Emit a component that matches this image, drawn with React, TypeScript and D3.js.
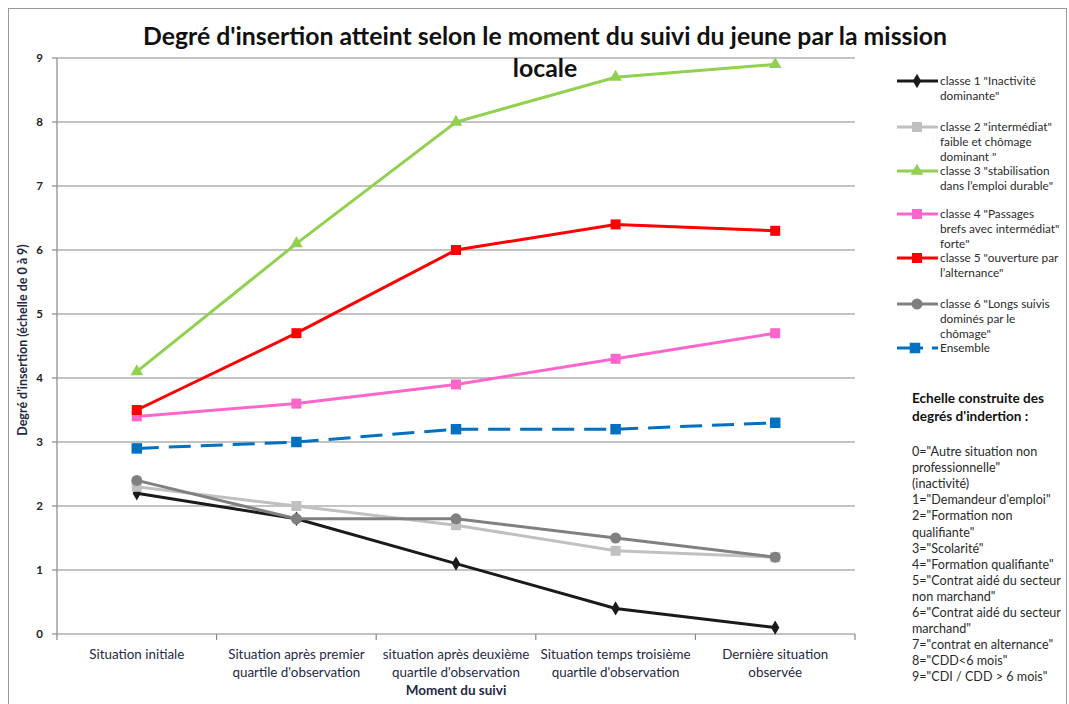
import React from 'react'
import { scaleBand, scaleLinear, line, symbol, symbolSquare, symbolDiamond, symbolTriangle, symbolCircle, range } from 'd3'

const categories = [
  ['Situation initiale'],
  ['Situation après premier', "quartile d'observation"],
  ['situation après deuxième', "quartile d'observation"],
  ['Situation temps troisième', "quartile d'observation"],
  ['Dernière situation', 'observée'],
]

const classe1 = [2.2, 1.8, 1.1, 0.4, 0.1]
const classe2 = [2.3, 2.0, 1.7, 1.3, 1.2]
const classe3 = [4.1, 6.1, 8.0, 8.7, 8.9]
const classe4 = [3.4, 3.6, 3.9, 4.3, 4.7]
const classe5 = [3.5, 4.7, 6.0, 6.4, 6.3]
const classe6 = [2.4, 1.8, 1.8, 1.5, 1.2]
const ensemble = [2.9, 3.0, 3.2, 3.2, 3.3]

const legendLabels = [
  ['classe 1 "Inactivité', 'dominante"'],
  ['classe 2 "intermédiat"', 'faible et chômage', 'dominant "'],
  ['classe 3 "stabilisation', 'dans l’emploi durable"'],
  ['classe 4 "Passages', 'brefs avec intermédiat"', 'forte"'],
  ['classe 5 "ouverture par', 'l’alternance"'],
  ['classe 6 "Longs suivis', 'dominés par le', 'chômage"'],
  ['Ensemble'],
]

const scaleTitle = ['Echelle construite des', "degrés d'indertion :"]
const scaleLines = [
  '0="Autre situation non',
  'professionnelle"',
  '(inactivité)',
  '1="Demandeur d\'emploi"',
  '2="Formation non',
  'qualifiante"',
  '3="Scolarité"',
  '4="Formation qualifiante"',
  '5="Contrat aidé du secteur',
  'non marchand"',
  '6="Contrat aidé du secteur',
  'marchand"',
  '7="contrat en alternance"',
  '8="CDD<6 mois"',
  '9="CDI / CDD > 6 mois"',
]

const yTicks = range(0, 10)

const series = [
  { values: classe1, color: '#1a1a1a', shape: symbolDiamond, size: 60, dash: null },
  { values: classe2, color: '#c0c0c0', shape: symbolSquare, size: 100, dash: null },
  { values: classe3, color: '#92d050', shape: symbolTriangle, size: 70, dash: null },
  { values: classe4, color: '#ff66cc', shape: symbolSquare, size: 100, dash: null },
  { values: classe5, color: '#ff0000', shape: symbolSquare, size: 100, dash: null },
  { values: classe6, color: '#808080', shape: symbolCircle, size: 95, dash: null },
  { values: ensemble, color: '#0070c0', shape: symbolSquare, size: 110, dash: '22,10' },
]

const legendY = [85, 131, 175, 218, 262, 308, 352]

const font = 'Lato, "Open Sans", sans-serif'

const App = () => {
  const width = 1069
  const height = 704
  const left = 57
  const right = 855
  const top = 58
  const bottom = 634

  const xscale = scaleBand().domain(range(categories.length).map(String)).range([left, right])
  const cx = (i) => xscale(String(i)) + xscale.bandwidth() / 2
  const yscale = scaleLinear().domain([0, 9]).range([bottom, top])

  const path = line().x((d, i) => cx(i)).y(d => yscale(d))

  const gridLines = yTicks.map(t => (
    <g key={t}>
      <line x1={left} x2={right} y1={yscale(t)} y2={yscale(t)} stroke='#888' strokeWidth={1.2} />
      <line x1={left - 5} x2={left} y1={yscale(t)} y2={yscale(t)} stroke='#888' strokeWidth={1.2} />
      <text x={left - 14} y={yscale(t) + 4} textAnchor='end' fontSize={11.5} fontWeight='bold' fill='#222'>{t}</text>
    </g>
  ))

  const xTicks = range(categories.length + 1).map(i => {
    const x = i < categories.length ? xscale(String(i)) : right
    return <line key={i} x1={x} x2={x} y1={bottom} y2={bottom + 6} stroke='#888' strokeWidth={1.2} />
  })

  const xLabels = categories.map((c, i) => (
    <text key={i} x={cx(i)} y={659} textAnchor='middle' fontSize={13.4} fill='#1f2a44'>
      {c.map((l, j) => <tspan key={j} x={cx(i)} dy={j === 0 ? 0 : 18}>{l}</tspan>)}
    </text>
  ))

  const lines = series.map((s, k) => (
    <g key={k}>
      <path d={path(s.values)} fill='none' stroke={s.color} strokeWidth={3} strokeDasharray={s.dash || undefined} />
      {s.values.map((v, i) => (
        <path key={i} transform={`translate(${cx(i)},${yscale(v)})`} d={symbol(s.shape, s.size)()} fill={s.color} />
      ))}
    </g>
  ))

  const legend = series.map((s, k) => {
    const y = legendY[k]
    return (
      <g key={k}>
        {s.dash
          ? <g>
              <line x1={897} x2={923} y1={y - 4} y2={y - 4} stroke={s.color} strokeWidth={3} />
              <line x1={932} x2={938} y1={y - 4} y2={y - 4} stroke={s.color} strokeWidth={3} />
            </g>
          : <line x1={897} x2={938} y1={y - 4} y2={y - 4} stroke={s.color} strokeWidth={3} />}
        <path transform={`translate(${s.dash ? 915 : 917},${y - 4})`} d={symbol(s.shape, s.size)()} fill={s.color} />
        <text x={940} y={y} fontSize={11.8} fill='#2b2b2b'>
          {legendLabels[k].map((l, j) => <tspan key={j} x={940} dy={j === 0 ? 0 : 15}>{l}</tspan>)}
        </text>
      </g>
    )
  })

  return (
    <svg width={width} height={height} viewBox={`0 0 ${width} ${height}`} style={{ position: 'absolute', left: 0, top: 0, fontFamily: font }}>
      <rect x={0} y={0} width={width} height={height} fill='#fff' />
      <rect x={8.5} y={8.5} width={1058} height={710} fill='none' stroke='#999' strokeWidth={1} />
      {gridLines}
      <line x1={left} x2={left} y1={top} y2={bottom} stroke='#888' strokeWidth={1.2} />
      {xTicks}
      {xLabels}
      {lines}
      <text x={545} y={45} textAnchor='middle' fontSize={24.8} fontWeight='bold' fill='#111'>
        <tspan x={545} dy={0}>Degré d'insertion atteint selon le moment du suivi du jeune par la mission</tspan>
        <tspan x={545} dy={32}>locale</tspan>
      </text>
      <text transform={`translate(27,${(top + bottom) / 2 - 6}) rotate(-90)`} textAnchor='middle' fontSize={12.5} fontWeight='bold' fill='#1f2a44'>
        Degré d'insertion (échelle de 0 à 9)
      </text>
      <text x={456} y={695} textAnchor='middle' fontSize={13.5} fontWeight='bold' fill='#1f2a44'>Moment du suivi</text>
      {legend}
      <text x={912} y={403} fontSize={13.6} fontWeight='bold' fill='#111'>
        {scaleTitle.map((l, j) => <tspan key={j} x={912} dy={j === 0 ? 0 : 18}>{l}</tspan>)}
      </text>
      <text x={912} y={456} fontSize={12.6} fill='#2b2b2b'>
        {scaleLines.map((l, j) => <tspan key={j} x={912} dy={j === 0 ? 0 : 16.1}>{l}</tspan>)}
      </text>
    </svg>
  )
}

export default App
